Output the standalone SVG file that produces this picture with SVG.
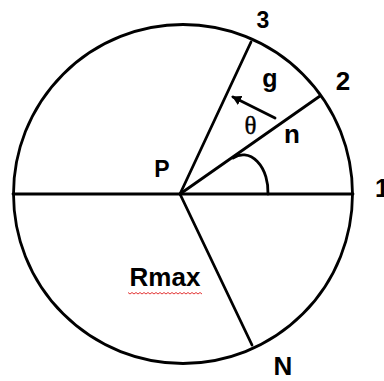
<svg xmlns="http://www.w3.org/2000/svg" width="384" height="381" viewBox="0 0 384 381">
<style>
.ln{fill:none;stroke:#000;stroke-width:2.8;stroke-linecap:round}
.lb{font-family:"Liberation Sans",Arial,sans-serif;font-weight:bold;fill:#000;text-anchor:middle}
.th{font-family:"Liberation Serif","Times New Roman",serif;fill:#000;text-anchor:middle}
</style>
<defs>
<marker id="ah" markerWidth="10" markerHeight="10" refX="8" refY="5" orient="auto" markerUnits="userSpaceOnUse">
<path d="M0,0 L9,5 L0,10 Z" fill="#000"/>
</marker>
</defs>
<rect width="384" height="381" fill="#fff"/>
<g id="circle"><circle class="ln" cx="183" cy="194" r="169.5"/></g>
<g id="connectors">
<line class="ln" x1="13" y1="194" x2="353" y2="194"/>
<line class="ln" x1="180" y1="194" x2="251" y2="42"/>
<line class="ln" x1="180" y1="194" x2="320" y2="96"/>
<line class="ln" x1="180" y1="194" x2="252" y2="345"/>
<path class="ln" d="M233 158 A25 37 0 0 1 268 194"/>
<line class="ln" x1="275" y1="118" x2="233" y2="97" marker-end="url(#ah)"/>
</g>
<g id="labels">
<text class="lb" x="263" y="28" font-size="23">3</text>
<text class="lb" x="343" y="90" font-size="26">2</text>
<text class="lb" x="270" y="87" font-size="25">g</text>
<text class="th" x="250.5" y="134" font-size="25" stroke="#000" stroke-width="0.4">θ</text>
<text class="lb" x="292" y="143" font-size="26">n</text>
<text class="lb" x="162" y="177" font-size="23">P</text>
<text class="lb" x="375" y="197" font-size="25" style="text-anchor:start">1</text>
<text class="lb" x="165" y="286" font-size="26">Rmax</text>
<text class="lb" x="283" y="375" font-size="26">N</text>
</g>
<path d="M128 292.5 l2 1.5 l2 -1.5 l2 1.5 l2 -1.5 l2 1.5 l2 -1.5 l2 1.5 l2 -1.5 l2 1.5 l2 -1.5 l2 1.5 l2 -1.5 l2 1.5 l2 -1.5 l2 1.5 l2 -1.5 l2 1.5 l2 -1.5 l2 1.5 l2 -1.5 l2 1.5 l2 -1.5 l2 1.5 l2 -1.5 l2 1.5 l2 -1.5 l2 1.5 l2 -1.5 l2 1.5 l2 -1.5 l2 1.5 l2 -1.5 l2 1.5 l2 -1.5 l2 1.5 l2 -1.5 l2 1.5" fill="none" stroke="#e02020" stroke-width="0.9"/>
</svg>
